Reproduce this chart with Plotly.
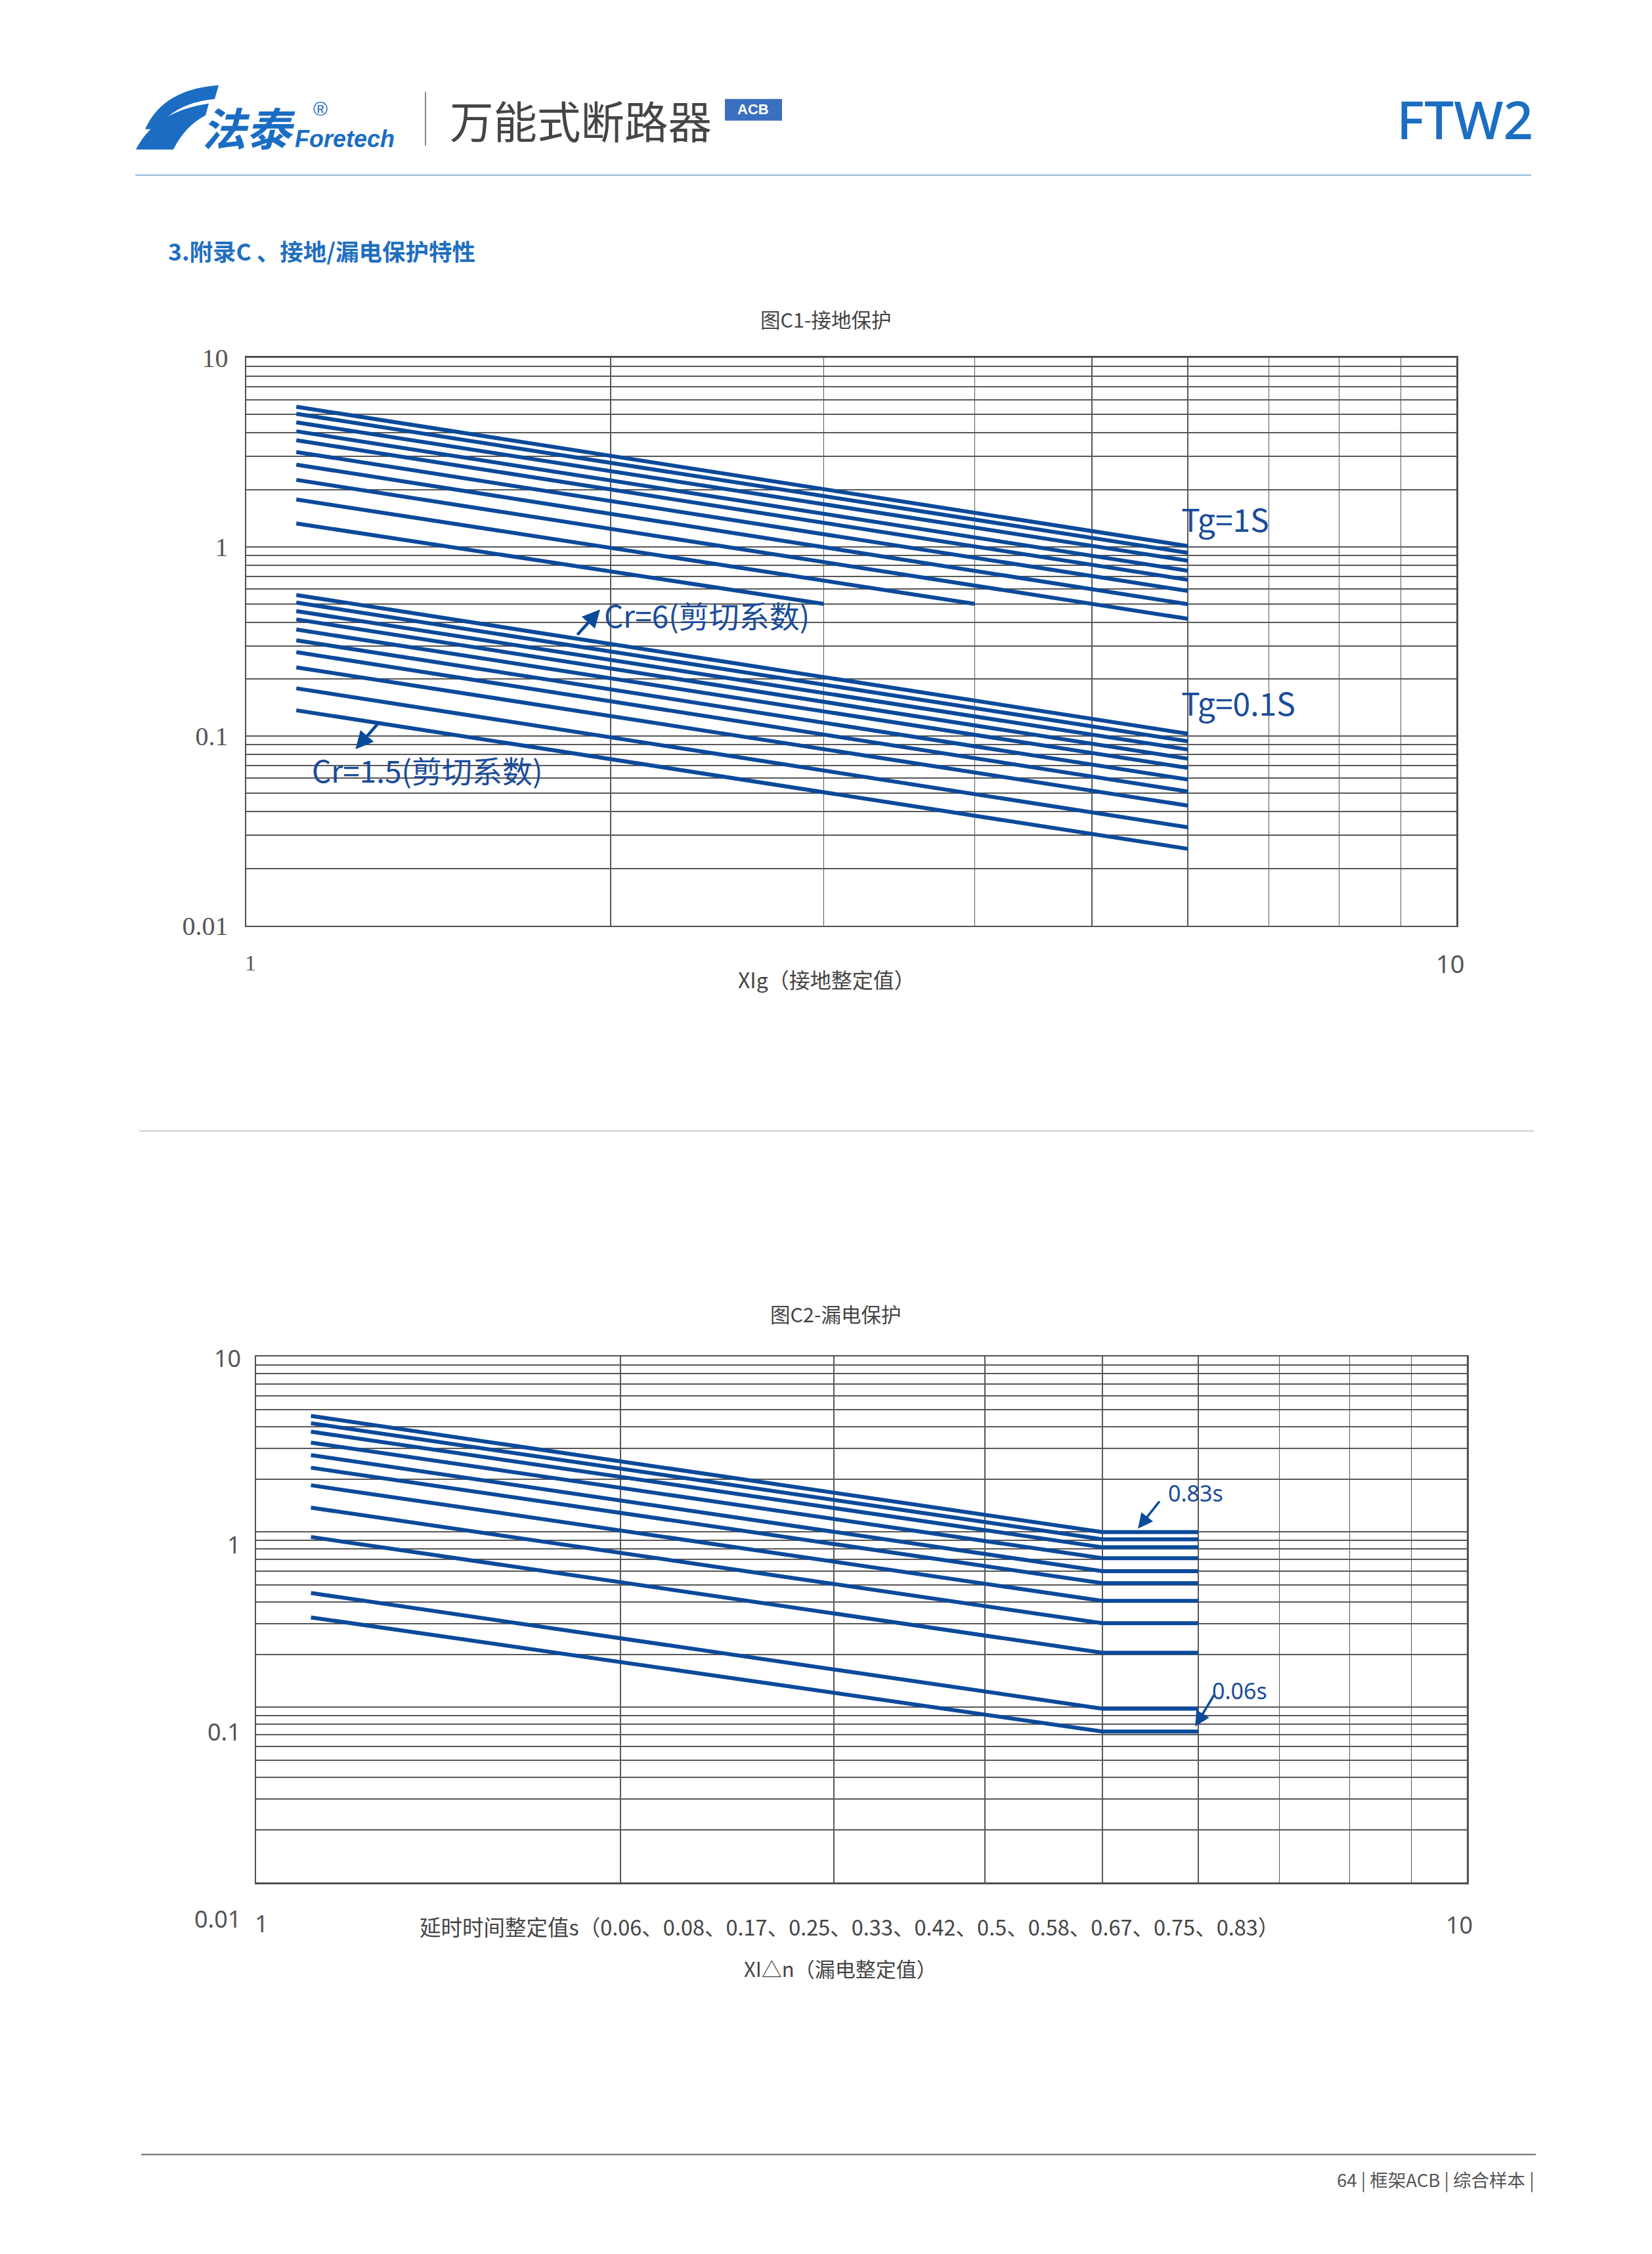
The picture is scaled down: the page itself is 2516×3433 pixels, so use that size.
import plotly.graph_objects as go
import numpy as np

PAGE_W, PAGE_H = 2516, 3433
W, H = 2500, 3417
# measured page-placement correction (vertical) for this figure size
VS, VO = 0.98693, 14.4

# ---------------- data: chart C1 (ground protection) ----------------
c1_x_start = 1.1
# Tg = 1S group (10 curves)
c1_tg1_start_y = [5.5, 5.05, 4.55, 4.08, 3.66, 3.17, 2.72, 2.26, 1.78, 1.33]
c1_tg1_end_x = [6, 6, 6, 6, 6, 6, 6, 6, 4, 3]
c1_tg1_end_y = [1.01, 0.93, 0.845, 0.748, 0.67, 0.585, 0.498, 0.417, 0.5, 0.5]
# Tg = 0.1S group (10 curves)
c1_tg01_start_y = [0.557, 0.508, 0.458, 0.414, 0.366, 0.321, 0.278, 0.231, 0.179, 0.137]
c1_tg01_end_x = [6, 6, 6, 6, 6, 6, 6, 6, 6, 6]
c1_tg01_end_y = [0.103, 0.094, 0.085, 0.076, 0.068, 0.059, 0.051, 0.043, 0.033, 0.0254]

# ---------------- data: chart C2 (leakage protection) ----------------
c2_x_points = [1.11, 5, 6]
c2_delays = ["0.83", "0.75", "0.67", "0.58", "0.5", "0.42", "0.33", "0.25", "0.17", "0.08", "0.06"]
c2_start_y = [4.60, 4.18, 3.74, 3.24, 2.75, 2.33, 1.85, 1.378, 0.938, 0.449, 0.326]
c2_knee_y = [1.0, 0.91, 0.819, 0.71, 0.598, 0.511, 0.405, 0.302, 0.205, 0.0983, 0.0728]

# ---------------- axes ticks / grid ----------------
x_major = [1, 10]
x_major_text = ["1", "10"]
x_minor = [2, 3, 4, 5, 6, 7, 8, 9]
y_major = [0.01, 0.1, 1, 10]
y_major_text = ["0.01", "0.1", "1", "10"]
y_minor = [0.02, 0.03, 0.04, 0.05, 0.06, 0.07, 0.08, 0.09,
           0.2, 0.3, 0.4, 0.5, 0.6, 0.7, 0.8, 0.9,
           2, 3, 4, 5, 6, 7, 8, 9]

LINE = "#0b4a9a"
TXTBLUE = "#1a4c9a"
GRID = "#585858"
BORDER = "#505050"
CJK = "Noto Sans CJK SC"


def px(x):
    return x / W


def py(y):
    s = (y - VO) / VS
    return 1 - (s - 8) / H


fig = go.Figure()

for sy, ex, ey in zip(c1_tg1_start_y, c1_tg1_end_x, c1_tg1_end_y):
    fig.add_trace(go.Scatter(x=[c1_x_start, ex], y=[sy, ey], xaxis="x", yaxis="y",
                             mode="lines", line=dict(color=LINE, width=6),
                             showlegend=False, hoverinfo="skip"))
for sy, ex, ey in zip(c1_tg01_start_y, c1_tg01_end_x, c1_tg01_end_y):
    fig.add_trace(go.Scatter(x=[c1_x_start, ex], y=[sy, ey], xaxis="x", yaxis="y",
                             mode="lines", line=dict(color=LINE, width=6),
                             showlegend=False, hoverinfo="skip"))
for name, sy, ky in zip(c2_delays, c2_start_y, c2_knee_y):
    fig.add_trace(go.Scatter(x=c2_x_points, y=[sy, ky, ky], xaxis="x2", yaxis="y2",
                             mode="lines", name=name + "s", line=dict(color=LINE, width=6),
                             showlegend=False, hoverinfo="skip"))

axis_common = dict(type="log", showline=True, mirror=True, linecolor=BORDER, linewidth=2.5,
                   showgrid=True, gridcolor=GRID, zeroline=False, ticks="", fixedrange=True)

fig.update_layout(
    width=W, height=H, margin=dict(l=0, r=0, t=0, b=0),
    paper_bgcolor="white", plot_bgcolor="white",
    xaxis=dict(**axis_common, domain=[px(375), px(2218)], range=[0, 1], anchor="y",
               tickvals=x_major, showticklabels=False, gridwidth=1.6,
               minor=dict(tickvals=x_minor, showgrid=True, gridcolor=GRID, gridwidth=1.6, ticks="")),
    yaxis=dict(**axis_common, domain=[py(1410), py(545)], range=[-2, 1], anchor="x",
               tickvals=y_major, ticktext=y_major_text, gridwidth=2,
               tickfont=dict(family="Liberation Serif", size=40, color="#555"),
               ticklabelstandoff=17,
               minor=dict(tickvals=y_minor, showgrid=True, gridcolor=GRID, gridwidth=2, ticks="")),
    xaxis2=dict(**axis_common, domain=[px(390), px(2234)], range=[0, 1], anchor="y2",
                tickvals=x_major, showticklabels=False, gridwidth=1.6,
                minor=dict(tickvals=x_minor, showgrid=True, gridcolor=GRID, gridwidth=1.6, ticks="")),
    yaxis2=dict(**axis_common, domain=[py(2868), py(2067)], range=[-2, 1], anchor="x2",
                tickvals=y_major, showticklabels=False, gridwidth=2,
                minor=dict(tickvals=y_minor, showgrid=True, gridcolor=GRID, gridwidth=2, ticks="")),
)

ann = []


def text(x, y, s, size, color, family=CJK, xanchor="center", yanchor="middle", weight=None):
    f = dict(family=family, size=size, color=color)
    if weight:
        f["weight"] = weight
    ann.append(dict(x=px(x), y=py(y), xref="paper", yref="paper", text=s, showarrow=False,
                    xanchor=xanchor, yanchor=yanchor, font=f))


# ---------------- header ----------------
text(305, 193, "<b><i>法泰</i></b>", 68, "#1a6dc2", xanchor="left")
text(447, 212, "<b><i>Foretech</i></b>", 36, "#1a6dc2", family="Liberation Sans", xanchor="left")
text(488, 166, "®", 30, "#1a6dc2", family="Liberation Sans")
text(683, 182, "万能式断路器", 66.5, "#454545", xanchor="left")
text(1147, 167, "<b>ACB</b>", 22, "white", family="Liberation Sans")
text(2337, 181, "FTW2", 80, "#1b6ec2", family="Noto Sans", xanchor="right", weight=500)
text(254, 382, "<b>3.附录C 、接地/漏电保护特性</b>", 35.5, "#1f6fc0", xanchor="left")

# ---------------- chart C1 texts ----------------
text(1257, 486, "图C1-接地保护", 30.5, "#444")
text(1259, 1491, "XIg（接地整定值）", 32, "#444")
text(381, 1467, "1", 34, "#555", family="Liberation Serif")
text(2208, 1467, "10", 38, "#555", family="Noto Sans")
text(1797, 789, "Tg=1S", 48, TXTBLUE, xanchor="left")
text(1797, 1069, "Tg=0.1S", 48, TXTBLUE, xanchor="left")
text(918, 936, "Cr=6(剪切系数)", 46, TXTBLUE, xanchor="left")
text(473, 1172, "Cr=1.5(剪切系数)", 46, TXTBLUE, xanchor="left")

# arrows (head positions in data units; log axes take log10 values)
ann.append(dict(x=np.log10(1.961), y=np.log10(0.467), xref="x", yref="y", ax=-36, ay=40,
                showarrow=True, arrowhead=2, arrowsize=1.2, arrowwidth=4.5, arrowcolor=LINE, text=""))
ann.append(dict(x=np.log10(1.231), y=np.log10(0.0852), xref="x", yref="y", ax=35, ay=-40,
                showarrow=True, arrowhead=2, arrowsize=1.2, arrowwidth=4.5, arrowcolor=LINE, text=""))

# ---------------- chart C2 texts ----------------
text(1272, 2001, "图C2-漏电保护", 30.5, "#444")
text(1293, 2934, "延时时间整定值s（0.06、0.08、0.17、0.25、0.33、0.42、0.5、0.58、0.67、0.75、0.83）",
     32.5, "#444")
text(1280, 2998, "XI△n（漏电整定值）", 31, "#444")
text(1821, 2275, "0.83s", 34, TXTBLUE, family="Noto Sans")
text(1888, 2576, "0.06s", 34, TXTBLUE, family="Noto Sans")
ann.append(dict(x=np.log10(5.35), y=np.log10(1.047), xref="x2", yref="y2", ax=34, ay=-43,
                showarrow=True, arrowhead=2, arrowsize=1.3, arrowwidth=3.5, arrowcolor=LINE, text=""))
ann.append(dict(x=np.log10(5.965), y=np.log10(0.0778), xref="x2", yref="y2", ax=30, ay=-50,
                showarrow=True, arrowhead=2, arrowsize=1.3, arrowwidth=3.5, arrowcolor=LINE, text=""))

# chart C2 tick labels (placed as in the original, below their grid lines)
c2_tick_shift = [-55, -37, -19, -2]
for v, t, s in zip(y_major, y_major_text, c2_tick_shift):
    ann.append(dict(x=px(369), y=np.log10(v), xref="paper", yref="y2", text=t, showarrow=False,
                    xanchor="right", yanchor="middle", yshift=s,
                    font=dict(family="Noto Sans", size=36, color="#555")))
text(398, 2930, "1", 36, "#555", family="Noto Sans")
text(2222, 2932, "10", 36, "#555", family="Noto Sans")

# ---------------- footer ----------------
text(2339, 3320, "64 | 框架ACB | 综合样本 |", 27.5, "#555", xanchor="right")

fig.update_layout(annotations=ann)

# ---------------- decorative shapes ----------------


def P(x, y):
    return f"{px(x):.5f},{py(y):.5f}"


shapes = []
# logo blades
shapes.append(dict(type="path", xref="paper", yref="paper", line=dict(width=0), fillcolor="#1a6dc2",
                   path=f"M {P(221,197)} Q {P(248,136)} {P(333,130)} L {P(327,151)} Q {P(266,157)} {P(238,197)} Z"))
shapes.append(dict(type="path", xref="paper", yref="paper", line=dict(width=0), fillcolor="#1a6dc2",
                   path=f"M {P(207,228)} Q {P(236,170)} {P(318,158)} L {P(313,176)} Q {P(282,192)} {P(264,228)} Z"))
# header divider
shapes.append(dict(type="line", xref="paper", yref="paper", x0=px(648), x1=px(648), y0=py(140), y1=py(222),
                   line=dict(color="#888", width=2)))
# ACB box
shapes.append(dict(type="rect", xref="paper", yref="paper", x0=px(1104), x1=px(1191), y0=py(151), y1=py(184),
                   line=dict(width=0), fillcolor="#3b6fbf", layer="below"))
# header line
shapes.append(dict(type="line", xref="paper", yref="paper", x0=px(206), x1=px(2332), y0=py(267), y1=py(267),
                   line=dict(color="#8db7de", width=2)))
# separator between charts
shapes.append(dict(type="line", xref="paper", yref="paper", x0=px(212), x1=px(2336), y0=py(1723), y1=py(1723),
                   line=dict(color="#bdbdbd", width=1.5)))
# footer line
shapes.append(dict(type="line", xref="paper", yref="paper", x0=px(215), x1=px(2339), y0=py(3282), y1=py(3282),
                   line=dict(color="#666", width=2)))
fig.update_layout(shapes=shapes)

fig.write_html("out.html", config={"displayModeBar": False, "staticPlot": True})
